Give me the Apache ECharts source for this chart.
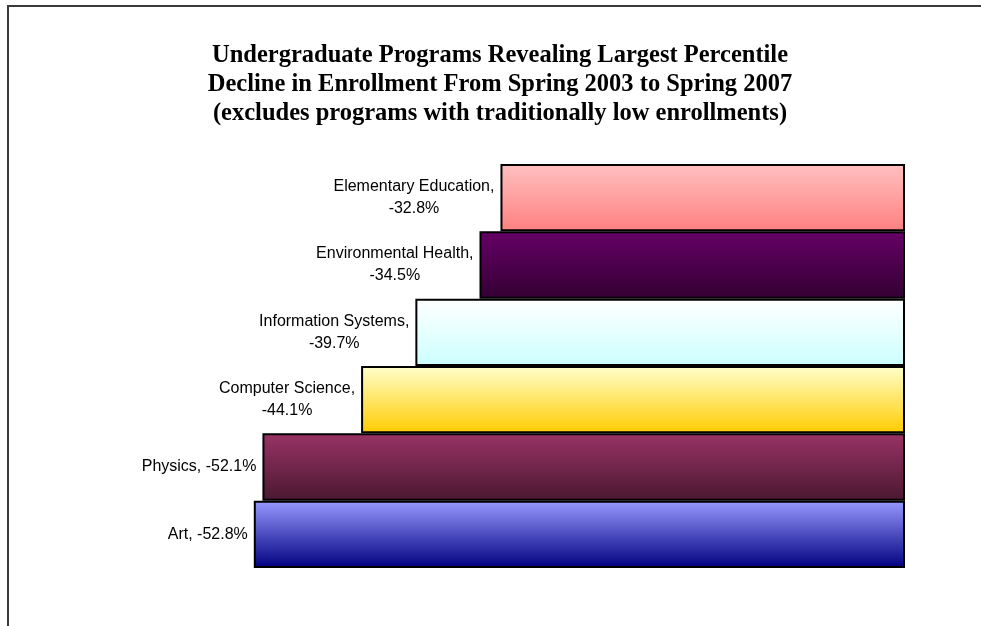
<!DOCTYPE html>
<html>
<head>
<meta charset="utf-8">
<title>Enrollment decline</title>
<script src="https://cdn.jsdelivr.net/npm/echarts@6/dist/echarts.min.js"></script>
<style>
  html, body { margin: 0; padding: 0; background: #fff; }
  #chart { width: 981px; height: 626px; }
</style>
</head>
<body>
<div id="chart"></div>
<script>
  // data, bottom to top
  const categories = ['Art', 'Physics', 'Computer Science', 'Information Systems', 'Environmental Health', 'Elementary Education'];
  const changePct = [-52.8, -52.1, -44.1, -39.7, -34.5, -32.8];
  const wrapLabel = [false, false, true, true, true, true];
  const titleLines = [
    'Undergraduate Programs Revealing Largest Percentile',
    'Decline in Enrollment From Spring 2003 to Spring 2007',
    '(excludes programs with traditionally low enrollments)'
  ];
  // gradient top / bottom
  const topColors = ['#9999ff', '#993366', '#ffffcc', '#ffffff', '#660066', '#ffc0c0'];
  const bottomColors = ['#000080', '#4a1830', '#ffcc00', '#ccffff', '#330033', '#ff8080'];

  const chart = echarts.init(document.getElementById('chart'));

  const barData = changePct.map((v, i) => ({
    value: v,
    itemStyle: {
      color: new echarts.graphic.LinearGradient(0, 0, 0, 1, [
        {offset: 0, color: topColors[i]},
        {offset: 1, color: bottomColors[i]}
      ])
    }
  }));

  chart.setOption({
    animation: false,
    backgroundColor: '#fff',
    graphic: [
      { // outer frame
        type: 'rect',
        shape: {x: 8, y: 6, width: 1000, height: 700},
        style: {fill: 'none', stroke: '#3a3a3a', lineWidth: 2},
        silent: true
      },
      {
        type: 'text',
        x: 500,
        y: 41,
        style: {
          text: titleLines.join('\n'),
          font: 'bold 24.5px "Liberation Serif", "Times New Roman", serif',
          textAlign: 'center',
          lineHeight: 29,
          fill: '#000'
        }
      }
    ],
    grid: {left: 165, right: 76, top: 164, bottom: 58},
    xAxis: {
      type: 'value',
      min: -60,
      max: 0,
      show: false
    },
    yAxis: {
      type: 'category',
      data: categories,
      show: false
    },
    series: [
      {
        type: 'bar',
        barCategoryGap: 0,
        data: barData,
        itemStyle: {
          borderColor: '#000',
          borderWidth: 2
        },
        label: {
          show: true,
          position: 'left',
          distance: 6,
          formatter: p => {
            const i = p.dataIndex;
            const pct = p.value.toFixed(1) + '%';
            return wrapLabel[i]
              ? '{c|' + p.name + ',}\n{c|' + pct + '}'
              : '{c|' + p.name + ', ' + pct + '}';
          },
          rich: {
            c: {
              align: 'center',
              fontFamily: '"Liberation Sans", Arial, sans-serif',
              fontSize: 16,
              lineHeight: 22,
              color: '#000'
            }
          }
        }
      }
    ]
  });
</script>
</body>
</html>
